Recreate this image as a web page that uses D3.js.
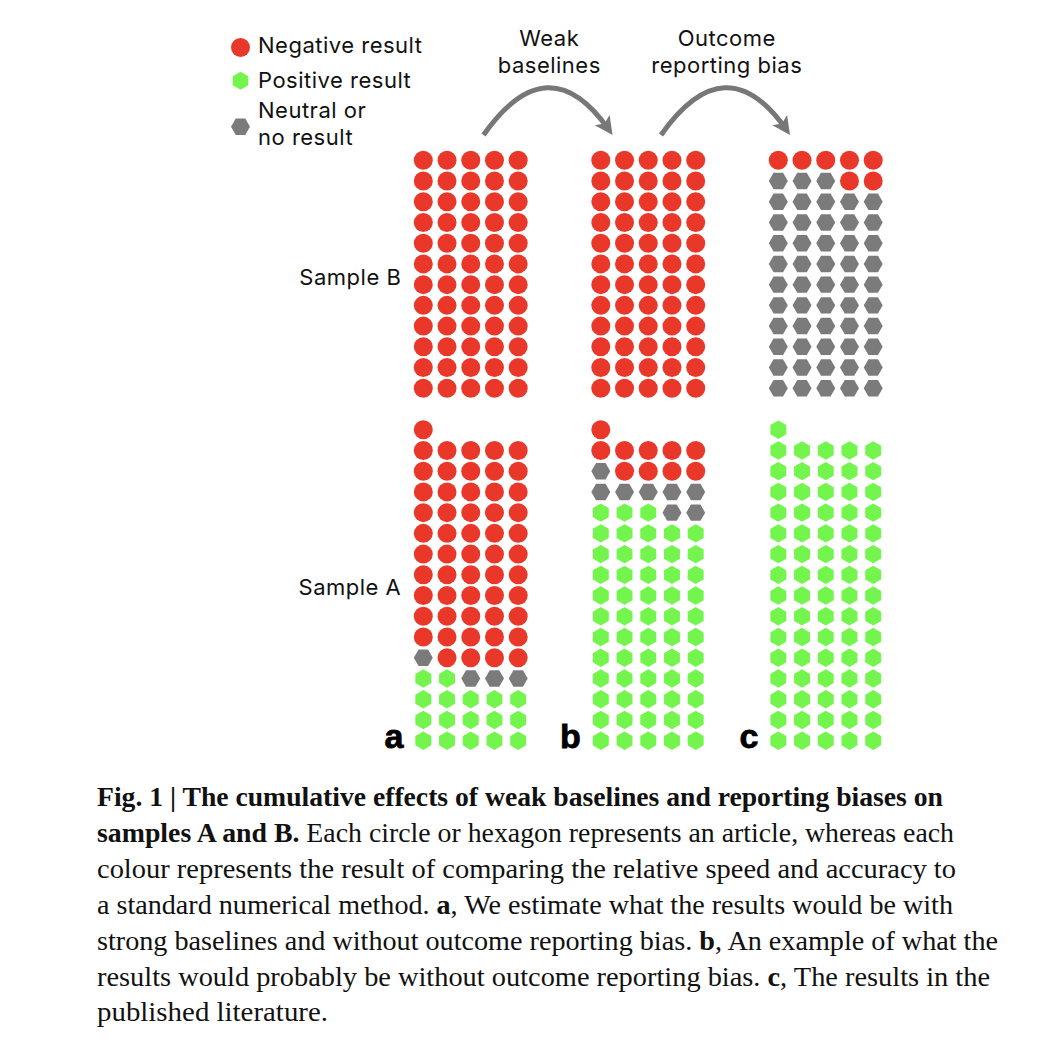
<!DOCTYPE html>
<html><head><meta charset="utf-8">
<script src="https://cdn.jsdelivr.net/npm/d3@7"></script>
<style>body{margin:0;background:#fff}</style>
</head><body>
<svg id="chart" width="1044" height="1048"></svg>
<script>
// ---------- data ----------
const panels = ["a", "b", "c"];
const samples = ["Sample B", "Sample A"];
const categories = ["Positive result", "Neutral or no result", "Negative result"];
// counts per panel (a, b, c)
const sampleBPositive = [0, 0, 0];
const sampleBNeutral  = [0, 0, 53];
const sampleBNegative = [60, 60, 7];
const sampleAPositive = [17, 58, 76];
const sampleANeutral  = [4, 8, 0];
const sampleANegative = [55, 10, 0];
const transitionLabels = [["Weak", "baselines"], ["Outcome", "reporting bias"]];
const legendLabels = [["Negative result"], ["Positive result"], ["Neutral or", "no result"]];
const legendOrder = ["Negative result", "Positive result", "Neutral or no result"];
const captionLines = [
  [["Fig. 1 | The cumulative effects of weak baselines and reporting biases on", true]],
  [["samples A and B.", true], [" Each circle or hexagon represents an article, whereas each", false]],
  [["colour represents the result of comparing the relative speed and accuracy to", false]],
  [["a standard numerical method. ", false], ["a", true], [", We estimate what the results would be with", false]],
  [["strong baselines and without outcome reporting bias. ", false], ["b", true], [", An example of what the", false]],
  [["results would probably be without outcome reporting bias. ", false], ["c", true], [", The results in the", false]],
  [["published literature.", false]]
];
const captionWidths = [846, 857, 859, 856, 901, 893, 231];

// ---------- styles ----------
const color = d3.scaleOrdinal().domain(categories).range(["#74f54e", "#7b7b7b", "#e9382a"]);
const labelFont = "Inter, 'Open Sans', sans-serif";
const labelSize = 22, labelSpacing = 0.5;
const svg = d3.select("#chart");
svg.append("rect").attr("width", 1044).attr("height", 1048).attr("fill", "#fff");

function hexPath(R, pointyTop) {
  const pts = d3.range(6).map(i => {
    const a = Math.PI / 3 * i + (pointyTop ? Math.PI / 6 : 0);
    return [R * Math.cos(a), R * Math.sin(a)];
  });
  return d3.line()(pts) + "Z";
}
function drawMark(sel, cat) {
  if (cat === "Negative result") {
    sel.append("circle").attr("r", 9.5).attr("fill", color(cat));
  } else if (cat === "Positive result") {
    sel.append("path").attr("d", hexPath(9.2, true)).attr("fill", color(cat));
  } else {
    sel.append("path").attr("d", hexPath(9.5, false)).attr("fill", color(cat));
  }
}
function label(sel) {
  return sel.attr("font-family", labelFont).attr("font-size", labelSize)
    .attr("letter-spacing", labelSpacing).attr("fill", "#111");
}

// ---------- scales ----------
const panelX = d3.scalePoint().domain(panels).range([423.3, 778.3]);
const colX = d3.scaleLinear().domain([0, 4]).range([0, 94.9]);
const baseY = d3.scaleOrdinal().domain(samples).range([388.3, 740.7]);
const rowY = d3.scaleLinear().domain([0, 15]).range([0, 311]);

const counts = {
  "Sample B": [sampleBPositive, sampleBNeutral, sampleBNegative],
  "Sample A": [sampleAPositive, sampleANeutral, sampleANegative]
};
const units = [];
panels.forEach((p, pi) => samples.forEach(s => {
  let idx = 0;
  categories.forEach((c, ci) => {
    for (let k = 0; k < counts[s][ci][pi]; k++) units.push({panel: p, sample: s, cat: c, idx: idx++});
  });
}));

const g = svg.append("g");
g.selectAll("g.unit").data(units).join("g").attr("class", "unit")
  .attr("transform", d => `translate(${panelX(d.panel) + colX(d.idx % 5)},${baseY(d.sample) - rowY(Math.floor(d.idx / 5))})`)
  .each(function(d) { drawMark(d3.select(this), d.cat); });

// sample labels
svg.selectAll("text.sample").data(samples).join("text").attr("class", "sample")
  .attr("x", panelX("a") - 22).attr("y", d => baseY(d) - (d === "Sample B" ? 103.8 : 145.7))
  .attr("text-anchor", "end").call(label)
  .text(d => d);

// panel letters
svg.selectAll("text.panel").data(panels).join("text").attr("class", "panel")
  .attr("x", d => panelX(d) - 20).attr("y", 748)
  .attr("text-anchor", "end").attr("font-family", "'Liberation Sans', Arial, sans-serif")
  .attr("font-weight", "bold").attr("font-size", 34).attr("fill", "#000")
  .attr("stroke", "#000").attr("stroke-width", 0.8)
  .text(d => d);

// legend
const legendY = [47.5, 80.8, 126.7];
const legendTextY = [[52.5], [88.3], [118.3, 145]];
legendOrder.forEach((c, i) => {
  const lg = svg.append("g").attr("transform", `translate(240.5,${legendY[i]})`);
  if (c === "Positive result") lg.append("path").attr("d", hexPath(9, true)).attr("fill", color(c));
  else if (c === "Negative result") lg.append("circle").attr("r", 9.5).attr("fill", color(c));
  else lg.append("path").attr("d", hexPath(9.5, false)).attr("fill", color(c));
  legendLabels[i].forEach((t, j) => {
    svg.append("text").attr("x", 258).attr("y", legendTextY[i][j]).call(label).text(t);
  });
});

// transition arrows
const defs = svg.append("defs");
defs.append("marker").attr("id", "ah").attr("markerUnits", "userSpaceOnUse")
  .attr("viewBox", "-13 -11 22 22").attr("markerWidth", 22).attr("markerHeight", 22)
  .attr("refX", 0).attr("refY", 0).attr("orient", "auto")
  .append("path").attr("d", "M-12,-9 L6,0 L-12,9 L-8,0 Z").attr("fill", "#777");

const gap = panelX("b") - panelX("a");
transitionLabels.forEach((lab, i) => {
  const x0 = panelX(panels[i]) + colX(4) - 34.7;
  const x1 = x0 + gap * 0.73;
  const cx = (x0 + x1) / 2;
  const xEnd = x1 - 4, yEnd = 130;
  svg.append("path")
    .attr("d", `M${x0},135 Q${cx},43 ${xEnd},${yEnd}`)
    .attr("fill", "none").attr("stroke", "#777").attr("stroke-width", 5)
    .attr("marker-end", "url(#ah)");
  lab.forEach((t, j) => {
    svg.append("text").attr("x", cx + 1).attr("y", 46 + j * 27)
      .attr("text-anchor", "middle").call(label).text(t);
  });
});

// caption
captionLines.forEach((segs, i) => {
  const t = svg.append("text").attr("x", 97).attr("y", 806 + i * 35.9)
    .attr("font-family", "'Liberation Serif', 'Times New Roman', serif").attr("font-size", 27)
    .attr("fill", "#111");
  segs.forEach(([s, b]) => t.append("tspan").attr("font-weight", b ? "bold" : "normal").text(s));
  if (captionWidths[i]) t.attr("textLength", captionWidths[i]).attr("lengthAdjust", "spacingAndGlyphs");
});
</script>
</body></html>
